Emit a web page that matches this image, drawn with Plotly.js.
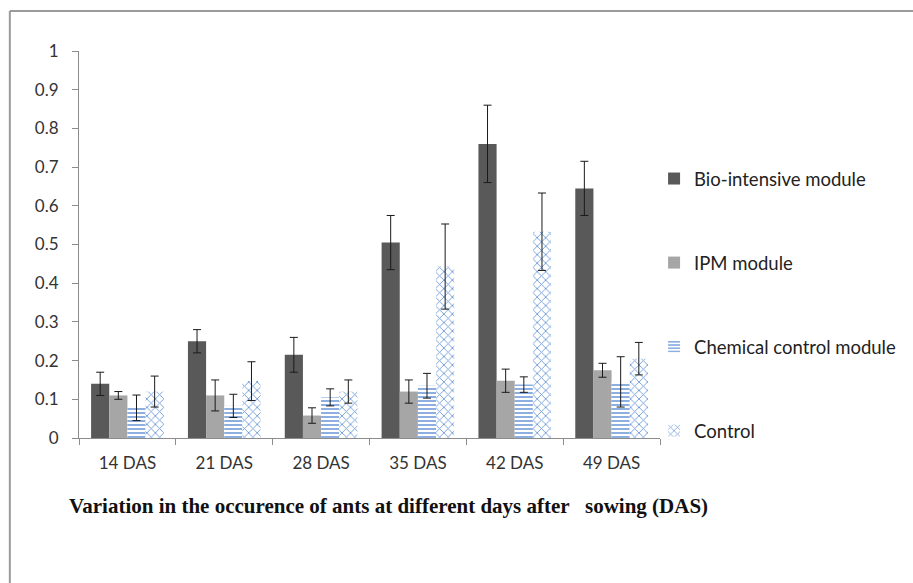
<!DOCTYPE html>
<html>
<head>
<meta charset="utf-8">
<script src="https://cdn.plot.ly/plotly-3.0.1.min.js"></script>
<style>html,body{margin:0;padding:0;background:#fff;}#chart{width:913px;height:583px;}</style>
</head>
<body>
<div id="chart"></div>
<script>
const categories = ["14 DAS", "21 DAS", "28 DAS", "35 DAS", "42 DAS", "49 DAS"];
const bioIntensive = [0.14, 0.25, 0.215, 0.505, 0.76, 0.645];
const bioIntensiveErr = [0.03, 0.03, 0.045, 0.07, 0.1, 0.07];
const ipm = [0.11, 0.11, 0.058, 0.12, 0.148, 0.175];
const ipmErr = [0.01, 0.04, 0.02, 0.03, 0.03, 0.018];
const chemical = [0.078, 0.083, 0.105, 0.135, 0.138, 0.145];
const chemicalErr = [0.033, 0.03, 0.022, 0.032, 0.02, 0.065];
const control = [0.12, 0.147, 0.12, 0.443, 0.533, 0.205];
const controlErr = [0.04, 0.05, 0.03, 0.11, 0.1, 0.042];
const seriesNames = ["Bio-intensive module", "IPM module", "Chemical control module", "Control"];

const errStyle = v => ({type: 'data', array: v, visible: true, color: '#1a1a1a', thickness: 1, width: 4});
const legendFont = {family: 'Lato, "Open Sans", sans-serif', size: 18.5, color: '#222'};

const traces = [
  {type: 'bar', name: seriesNames[0], x: categories, y: bioIntensive, error_y: errStyle(bioIntensiveErr),
   marker: {color: '#595959', line: {width: 0}}, legendgroup: 'a'},
  {type: 'bar', name: seriesNames[1], x: categories, y: ipm, error_y: errStyle(ipmErr),
   marker: {color: '#a6a6a6', line: {width: 0}}, legendgroup: 'b'},
  {type: 'bar', name: seriesNames[2], x: categories, y: chemical, error_y: errStyle(chemicalErr),
   marker: {color: '#ffffff', line: {width: 0}, pattern: {shape: '-', fgcolor: '#6f9bd8', bgcolor: '#ffffff', size: 4, solidity: 0.4}}, legendgroup: 'c'},
  {type: 'bar', name: seriesNames[3], x: categories, y: control, error_y: errStyle(controlErr),
   marker: {color: '#ffffff', line: {width: 0}, pattern: {shape: 'x', fgcolor: '#6f9bd8', bgcolor: '#ffffff', size: 6, solidity: 0.28}}, legendgroup: 'd'}
];

const W = 913, H = 583;
const L = 79, R = 667, T = 51, B = 438;
const px = v => (v - L) / (R - L);
const py = v => (B - v) / (B - T);

const layout = {
  width: W, height: H,
  margin: {l: L, r: W - R, t: T, b: H - B, pad: 0},
  paper_bgcolor: '#ffffff', plot_bgcolor: '#ffffff',
  barmode: 'group', bargap: 0.25, bargroupgap: 0,
  font: {family: 'Lato, "Open Sans", sans-serif', color: '#333'},
  showlegend: true,
  legend: {x: px(661), xanchor: 'left', y: py(160), yanchor: 'top', font: legendFont,
           tracegroupgap: 57, bgcolor: 'rgba(0,0,0,0)', itemwidth: 30},
  xaxis: {type: 'category', showgrid: false, zeroline: false, showline: true, linecolor: '#8c8c8c', linewidth: 1,
          ticks: 'outside', tickson: 'boundaries', ticklen: 6, tickcolor: '#8c8c8c',
          tickfont: {size: 17, color: '#333'}, ticklabelstandoff: 10},
  yaxis: {range: [0, 1], dtick: 0.1, tick0: 0, showgrid: false, zeroline: false, showline: true, linecolor: '#8c8c8c', linewidth: 1,
          ticks: 'outside', ticklen: 6, tickcolor: '#8c8c8c', tickfont: {size: 17, color: '#333'}, ticklabelstandoff: 10},
  annotations: [{
    xref: 'paper', yref: 'paper', x: px(392), y: py(506), xanchor: 'center', yanchor: 'middle', showarrow: false,
    text: 'Variation in the occurence of ants at different days after   sowing (DAS)',
    font: {family: '"Liberation Serif", "Times New Roman", serif', size: 21, color: '#111', weight: 'bold'}
  }],
  shapes: [
    {type: 'line', xref: 'paper', yref: 'paper', x0: px(9), x1: px(930), y0: py(11), y1: py(11), line: {color: '#9a9a9a', width: 2}},
    {type: 'line', xref: 'paper', yref: 'paper', x0: px(9), x1: px(9), y0: py(11), y1: py(600), line: {color: '#9a9a9a', width: 2}}
  ]
};

Plotly.newPlot('chart', traces, layout, {displayModeBar: false, staticPlot: true});
</script>
</body>
</html>
